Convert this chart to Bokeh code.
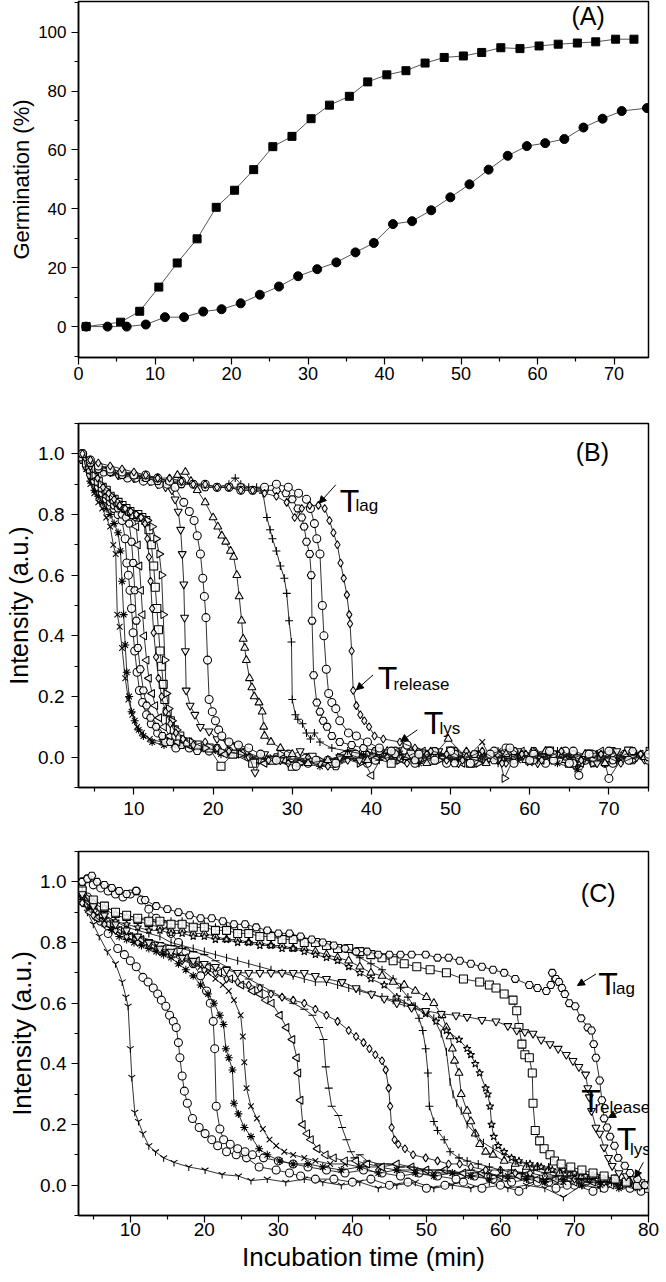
import math
from bokeh.plotting import figure
from bokeh.layouts import column
from bokeh.models import Range1d, Label, Arrow, NormalHead, FixedTicker, NumeralTickFormatter, Title
from bokeh.embed import file_html
from bokeh.resources import INLINE

FONT = "Liberation Sans"

# ---------------- Panel A data ----------------
a_sq_x = [1.0, 5.5, 8.0, 10.5, 12.9, 15.5, 18.0, 20.4, 22.9, 25.4, 27.9, 30.4, 32.8, 35.4, 37.8,
          40.3, 42.8, 45.3, 47.8, 50.3, 52.7, 55.2, 57.7, 60.2, 62.7, 65.2, 67.6, 70.2, 72.6]
a_sq_y = [0.0, 1.5, 5.2, 13.4, 21.6, 29.8, 40.5, 46.3, 53.3, 61.1, 64.6, 70.6, 75.2, 78.2, 83.1,
          85.5, 86.9, 89.5, 91.4, 91.9, 93.1, 94.7, 94.4, 95.3, 95.9, 96.3, 96.7, 97.6, 97.6]
a_ci_x = [1.0, 3.8, 6.3, 8.8, 11.3, 13.8, 16.3, 18.7, 21.2, 23.7, 26.2, 28.7, 31.2, 33.7, 36.2,
          38.6, 41.1, 43.6, 46.1, 48.6, 51.1, 53.6, 56.1, 58.6, 61.0, 63.5, 66.0, 68.5, 71.0, 74.3]
a_ci_y = [0.0, 0.0, 0.0, 0.7, 3.2, 3.2, 5.1, 5.9, 7.9, 10.8, 13.6, 17.1, 19.5, 21.8, 25.2,
          28.4, 34.8, 35.8, 39.5, 43.9, 48.3, 53.3, 58.0, 61.3, 62.3, 63.7, 67.6, 70.6, 73.2, 74.2]

# ---------------- Panel B data (time min, intensity a.u.) ----------------
b_cross = [(3.5,1.0),(4,.95),(4.5,.90),(5,.87),(5.5,.84),(6,.82),(6.5,.79),(7,.76),(7.4,.70),(7.7,.67),(7.9,.47),(8.2,.43),(8.5,.36),(8.9,.26),(9.3,.19),(9.8,.14),(10.4,.10),(11,.08),(12,.06),(13.5,.05),(15,.04),(17.5,.03),(20,.02),(22.5,.01),(25,-.01),(27.5,0),(30,-.02),(32.5,-.01),(35,-.02),(37.5,0),(40,.01),(42.5,-.01),(45,.02),(47.5,0),(50,-.01),(52.5,.01),(54,.05),(55,0),(57.5,.01),(60,-.02),(62.5,.01),(65,0),(67.5,-.01),(70,.02),(72.5,0),(75,-.01)]
b_star = [(3.5,.99),(4,.95),(4.5,.91),(5,.88),(5.5,.86),(6,.84),(6.5,.82),(7,.80),(7.5,.77),(8,.74),(8.3,.68),(8.5,.58),(8.7,.47),(8.9,.37),(9.1,.28),(9.4,.20),(9.7,.15),(10.1,.12),(10.6,.09),(11.2,.07),(12.3,.05),(13.8,.04),(16,.04),(18.5,.03),(21,.01),(23.5,.02),(26,0),(28.5,-.01),(31,-.02),(33.5,-.03),(36,-.01),(38.5,.01),(41,0),(43.5,.02),(46,-.02),(48.5,.01),(51,-.01),(53.5,0),(56,.02),(58.5,-.01),(61,.01),(63.5,-.02),(66,-.04),(68.5,.01),(71,-.01),(73.5,.01)]
b_circ1 = [(3.5,1.0),(4,.97),(4.5,.94),(5,.91),(5.5,.89),(6,.87),(6.5,.85),(7,.83),(7.5,.82),(8,.80),(8.5,.78),(8.9,.72),(9.1,.64),(9.3,.60),(9.5,.55),(9.7,.49),(9.9,.41),(10.1,.35),(10.4,.28),(10.7,.22),(11.1,.18),(11.6,.14),(12.2,.11),(13,.08),(14,.05),(15.3,.03),(17,.03),(19.5,.02),(22,.02),(24.5,0),(27,-.01),(29.5,.01),(32,-.02),(34.5,-.01),(37,.01),(39.5,-.02),(42,.01),(44.5,.04),(47,0),(49.5,-.02),(52,.01),(54.5,-.01),(57,.03),(59.5,0),(62,-.02),(64.5,.02),(67,-.01),(69.5,-.02),(70,-.07),(72,.01),(74.5,0)]
b_hex1 = [(3.5,.98),(4,.96),(4.5,.93),(5,.91),(5.5,.89),(6,.87),(6.5,.85),(7,.84),(7.5,.83),(8,.82),(8.5,.80),(9,.79),(9.4,.77),(9.7,.71),(9.9,.64),(10.1,.55),(10.3,.45),(10.5,.36),(10.8,.29),(11.2,.22),(11.6,.17),(12.1,.13),(12.8,.10),(13.6,.07),(14.6,.05),(16,.04),(18,.02),(20.5,.03),(23,.01),(25.5,-.01),(28,0),(30.5,-.02),(33,-.01),(35.5,-.03),(38,0),(40.5,.02),(43,-.01),(45.5,.01),(48,-.01),(50.5,.02),(53,-.02),(55.5,.01),(58,-.01),(60.5,.02),(63,0),(65.5,.01),(68,-.02),(70.5,.02),(73,-.01),(75,.01)]
b_ltri = [(3.5,1.0),(4,.97),(4.5,.94),(5,.92),(5.5,.90),(6,.88),(6.5,.86),(7,.85),(7.5,.84),(8,.83),(8.5,.82),(9,.81),(9.5,.80),(10,.79),(10.3,.76),(10.5,.70),(10.7,.63),(10.9,.55),(11.1,.47),(11.3,.40),(11.6,.32),(11.9,.26),(12.3,.21),(12.7,.17),(13.2,.13),(13.8,.10),(14.5,.07),(15.5,.05),(17,.04),(19,.03),(21.5,.01),(24,.02),(26.5,-.02),(29,-.01),(31.5,0),(34,-.02),(36.5,.01),(39,-.01),(40,-.06),(41.5,.01),(44,-.01),(46.5,.02),(49,0),(51.5,-.02),(54,.01),(56.5,-.01),(59,.02),(61.5,-.01),(64,.01),(66.5,-.02),(69,.02),(71.5,-.01),(74,.01)]
b_sq = [(3.5,.99),(4,.97),(4.5,.95),(5,.93),(5.5,.91),(6,.89),(6.5,.88),(7,.86),(7.5,.85),(8,.84),(8.5,.83),(9,.82),(9.5,.81),(10,.80),(10.5,.80),(11,.79),(11.5,.78),(11.9,.75),(12.2,.70),(12.5,.63),(12.7,.56),(12.9,.49),(13.1,.42),(13.3,.35),(13.5,.30),(13.7,.24),(13.9,.19),(14.2,.15),(14.6,.12),(15.1,.09),(15.8,.07),(16.8,.05),(18,.04),(19.5,.03),(21,-.03),(22.5,.01),(25,-.02),(27.5,-.01),(30,-.03),(32.5,0),(35,-.02),(37.5,.01),(40,0),(42.5,-.02),(45,.01),(47.5,-.01),(50,.02),(52.5,-.02),(55,0),(57.5,.01),(60,-.01),(62.5,.02),(65,-.02),(67.5,.01),(70,-.01),(72.5,.02),(75,0)]
b_rtri = [(3.5,1.0),(4.2,.96),(5,.93),(5.8,.90),(6.5,.88),(7.2,.86),(8,.84),(8.8,.82),(9.5,.81),(10.3,.80),(11,.79),(11.7,.78),(12.3,.76),(12.8,.72),(13.2,.67),(13.5,.60),(13.7,.47),(13.9,.32),(14.1,.21),(14.4,.16),(14.8,.12),(15.4,.09),(16.2,.06),(17.3,.05),(19,.03),(21,.02),(23.5,.01),(26,-.01),(28.5,.01),(31,-.02),(33.5,-.01),(36,0),(38.5,-.02),(41,.01),(43.5,-.01),(46,.02),(48.5,-.01),(51,.01),(53.5,-.02),(56,.01),(56.8,-.07),(58,0),(60.5,.02),(63,-.01),(65.5,.01),(68,-.02),(70.5,.01),(73,-.01),(75,.02)]
b_dia1 = [(3.5,1.0),(4,.98),(4.7,.95),(5.4,.92),(6.1,.89),(6.8,.87),(7.5,.85),(8.2,.83),(8.9,.82),(9.6,.81),(10.3,.80),(10.9,.79),(11.4,.77),(11.7,.72),(11.9,.66),(12.1,.58),(12.3,.49),(12.5,.41),(12.8,.33),(13.1,.26),(13.5,.20),(14,.15),(14.6,.11),(15.3,.08),(16.2,.06),(17.5,.04),(19,.05),(20.5,.03),(22,.02),(24.5,0),(27,-.01),(29.5,-.02),(32,0),(34.5,-.03),(37,-.01),(39.5,.01),(42,0),(44.5,-.02),(47,.01),(49.5,-.01),(52,.02),(54.5,0),(57,-.02),(59.5,.01),(62,.02),(64.5,-.01),(67,.01),(69.5,-.02),(72,.01),(74.5,-.01)]
b_itri = [(3.5,1.0),(4,.98),(4.5,.96),(5.2,.95),(6,.95),(7,.94),(8,.93),(9,.93),(10,.92),(11,.92),(12,.91),(13,.90),(14,.89),(14.8,.88),(15.2,.85),(15.6,.81),(15.9,.75),(16.1,.67),(16.3,.57),(16.4,.46),(16.5,.35),(16.6,.22),(17.1,.17),(17.7,.14),(18.4,.10),(19.5,.085),(20.5,.06),(21.8,.05),(23,.04),(24.3,.02),(25.3,-.05),(26.5,.01),(28.5,-.01),(31,.02),(33.5,-.02),(36,0),(38.5,-.01),(41,.02),(43.5,0),(46,-.01),(48.5,.02),(51,-.02),(53.5,.01),(56,-.01),(58.5,.02),(61,-.02),(63.5,.01),(66,0),(68.5,-.02),(71,.02),(73.5,0)]
b_circ2 = [(3.5,1.0),(4.3,.97),(5.2,.95),(6.2,.94),(7.2,.94),(8.2,.93),(9.2,.92),(10.2,.92),(11.2,.91),(12.2,.91),(13.2,.90),(14.2,.90),(15.2,.89),(16.3,.84),(17,.81),(17.6,.78),(18,.73),(18.4,.67),(18.7,.59),(18.9,.53),(19.1,.46),(19.3,.32),(19.5,.19),(19.9,.15),(20.3,.12),(20.7,.09),(21.1,.07),(22,.05),(23.2,.04),(24.5,.03),(26,.01),(28,-.01),(30.5,-.03),(33,-.01),(35.5,-.02),(38,.01),(40.5,-.01),(43,.02),(45.5,-.02),(48,0),(50.5,.01),(53,-.01),(55.5,.02),(58,-.02),(60.5,.01),(63,-.01),(65.5,.02),(68,0),(70.5,-.02),(73,.01),(75,-.01)]
b_tri = [(3.5,1.0),(4.5,.97),(5.5,.95),(7,.94),(8.5,.93),(10,.93),(11.5,.92),(13,.92),(14.5,.91),(15.5,.93),(16.5,.94),(17.2,.91),(18,.88),(19,.84),(20,.79),(20.6,.76),(21.1,.73),(21.6,.71),(22.2,.68),(22.6,.66),(23,.60),(23.3,.53),(23.6,.45),(23.8,.39),(24,.36),(24.2,.32),(24.6,.26),(24.9,.23),(25.2,.20),(25.8,.18),(26.2,.15),(26.4,.10),(26.5,.07),(27.3,.05),(28.5,.03),(30,.01),(32,-.02),(34.5,-.01),(37,.01),(39.5,-.01),(42,.02),(44.5,0),(47,-.02),(49.7,.06),(52,0),(54.5,-.02),(57,.01),(59.5,-.01),(62,.02),(64.5,-.01),(67,.01),(69.5,-.02),(72,.01),(74.5,0)]
b_plus = [(3.5,1.0),(4.5,.97),(5.5,.95),(7,.94),(8.5,.93),(10,.92),(11.5,.92),(13,.91),(14.5,.91),(16,.90),(17.5,.90),(19,.89),(20.5,.89),(22,.90),(22.8,.92),(23.5,.90),(24.5,.89),(25.5,.89),(26.3,.87),(26.8,.79),(27.2,.75),(27.5,.72),(28,.68),(28.5,.63),(29,.59),(29.3,.54),(29.6,.45),(29.9,.38),(30.0,.19),(30.4,.14),(30.7,.125),(31.3,.11),(31.8,.08),(32.3,.06),(32.8,.08),(33.5,.05),(35,.03),(37,.02),(39,.01),(41,-.01),(43.5,.01),(46,-.02),(48.5,.01),(51,-.01),(53.5,.02),(56,-.02),(58.5,.01),(61,-.01),(63.5,.02),(66,-.03),(68.5,.01),(71,-.01),(73.5,.01)]
b_hex2 = [(3.5,1.0),(4.5,.97),(5.5,.95),(7,.94),(8.5,.93),(10,.93),(11.5,.92),(13,.91),(14.5,.91),(16,.90),(17.5,.90),(19,.89),(20.5,.89),(22,.89),(23.5,.89),(25,.88),(26.5,.88),(28,.88),(29.2,.87),(30,.85),(30.7,.82),(31.2,.79),(31.5,.76),(31.8,.71),(32.2,.67),(32.4,.60),(32.5,.45),(32.7,.27),(33.1,.18),(33.5,.15),(33.9,.12),(34.4,.10),(35,.07),(36,.05),(37.5,.04),(39,.03),(41,.02),(43,.01),(45.5,-.01),(48,.02),(50.5,-.02),(53,.01),(55.5,-.01),(58,.02),(60.5,-.01),(63,.01),(65.5,-.02),(68,.01),(70.5,-.01),(73,.02),(75,0)]
b_circ3 = [(3.5,1.0),(4.5,.98),(5.5,.96),(7,.95),(8.5,.94),(10,.93),(11.5,.93),(13,.92),(14.5,.91),(16,.91),(17.5,.90),(19,.90),(20.5,.89),(22,.89),(23.5,.88),(25,.88),(26.5,.89),(28,.90),(29.5,.89),(30.8,.87),(31.8,.85),(32.3,.82),(32.8,.77),(33.1,.72),(33.5,.67),(33.8,.50),(34,.40),(34.3,.29),(34.6,.21),(35,.18),(35.5,.16),(36,.12),(37.1,.08),(38.1,.07),(39.5,.05),(41,.03),(42.5,.02),(44.5,.04),(46,.01),(48,-.01),(50,.02),(52.5,-.02),(55,.01),(57.5,.03),(60,-.01),(62.5,.02),(65,-.02),(66.2,-.06),(67.5,.01),(70,.02),(72.5,-.01),(75,.01)]
b_dia2 = [(3.5,1.0),(4.5,.98),(5.5,.97),(7,.96),(8.5,.95),(10,.94),(11.5,.93),(13,.92),(14.5,.92),(16,.91),(17.5,.90),(19,.90),(20.5,.89),(22,.89),(23.5,.88),(25,.88),(26.5,.87),(28,.86),(29.3,.84),(30.3,.79),(31.2,.82),(32.2,.83),(33.3,.83),(34.1,.82),(34.7,.78),(35.2,.74),(35.7,.70),(36.1,.64),(36.5,.59),(36.9,.535),(37.2,.47),(37.3,.44),(37.5,.35),(37.7,.22),(38.1,.17),(38.6,.14),(39.1,.12),(39.7,.10),(40.4,.07),(41.5,.06),(43.6,.05),(45.5,.03),(47.5,.02),(49.5,.01),(51.5,-.01),(54,.02),(56.5,-.02),(59,.01),(61.5,-.01),(64,.02),(66.5,-.01),(69,.01),(71.5,-.02),(74,.01)]

# ---------------- Panel C data ----------------
c_y1 = [(3.5,.95),(4.2,.90),(5,.86),(5.8,.82),(6.9,.77),(8,.73),(8.9,.67),(9.4,.62),(9.7,.59),(10,.45),(10.2,.355),(10.6,.24),(11.1,.21),(11.7,.17),(12.5,.13),(13.4,.11),(14.5,.09),(15.9,.075),(17.9,.06),(20.1,.05),(22.4,.035),(24.6,.03),(26.3,.015),(28.5,.02),(31,.01),(33.5,.02),(36,.01),(38.5,0),(41,.01),(43.5,-.01),(46,0),(48.5,.01),(51,-.01),(53.5,0),(56,-.01),(58.5,.01),(61,-.01),(63.5,0),(66,-.01),(68.5,-.04),(71,0),(73.5,-.01),(76,.01),(78.5,-.01),(80,0)]
c_circ1 = [(3.5,.98),(4.2,.95),(5,.91),(6,.87),(7,.83),(8.3,.78),(9.2,.76),(10,.74),(10.8,.72),(11.7,.685),(12.4,.67),(13.1,.65),(13.7,.63),(14.2,.61),(14.8,.59),(15.3,.56),(15.8,.54),(16.2,.52),(16.5,.47),(16.7,.42),(17,.36),(17.3,.31),(17.7,.27),(18.4,.22),(19.3,.19),(20.1,.17),(21,.15),(21.8,.13),(23,.11),(24.3,.10),(25.7,.09),(27.4,.06),(29.7,.05),(31.5,.04),(33,.03),(35,.02),(37.5,.02),(40,.01),(42.5,.02),(45,0),(47.5,.01),(50,-.01),(52.5,0),(55,.01),(57.5,-.01),(60,0),(62.5,-.02),(65,.01),(67.5,-.01),(70,0),(72.5,-.02),(75,.01),(77.5,-.01),(80,0)]
c_circ2 = [(3.5,1.0),(4.2,1.01),(5,.99),(6,.98),(7,.97),(8,.96),(9,.95),(10,.96),(10.8,.97),(11.5,.94),(12.5,.91),(13.5,.88),(14.5,.86),(15.5,.83),(16.5,.80),(17.5,.77),(18.5,.73),(19.5,.69),(20.3,.64),(20.8,.60),(21.2,.54),(21.4,.45),(21.6,.26),(22.1,.185),(22.6,.15),(23.5,.135),(24.5,.12),(25.5,.11),(26.5,.10),(28,.09),(30,.08),(32,.07),(34,.06),(36.5,.05),(39,.04),(41.5,.05),(44,.04),(46.5,.03),(49,.04),(51.5,.03),(54,.02),(56.5,.03),(59,.02),(61.5,.01),(64,.02),(66.5,.01),(69,0),(71.5,.01),(74,-.01),(76.5,0),(79,-.02)]
c_star = [(3.5,.95),(4.5,.91),(5.5,.88),(6.5,.86),(7.5,.84),(8.5,.82),(9.5,.81),(10.5,.80),(11.5,.79),(12.5,.78),(13.5,.77),(14.5,.76),(15.5,.75),(16.5,.73),(17.5,.71),(18.5,.69),(19.5,.66),(20.5,.63),(21.3,.60),(22.1,.56),(22.6,.53),(22.9,.45),(23.3,.42),(23.8,.38),(24,.27),(24.6,.235),(25.4,.19),(26.3,.16),(27.4,.12),(28.5,.10),(30.2,.08),(32,.07),(34,.07),(36,.06),(38.5,.05),(41,.06),(43.5,.04),(46,.05),(48.5,.04),(51,.03),(53.5,.04),(56,.03),(58.5,.02),(61,.03),(63.5,.02),(66,.01),(68.5,.02),(71,0),(73.5,.01),(76,-.01),(78.5,0)]
c_cross = [(3.5,.95),(4.5,.92),(5.5,.89),(6.5,.87),(7.5,.85),(8.5,.84),(9.5,.83),(10.5,.82),(11.5,.81),(12.5,.80),(13.5,.79),(14.5,.78),(15.5,.77),(16.5,.76),(17.5,.75),(18.5,.73),(19.5,.72),(20.5,.70),(21.5,.68),(22.5,.66),(23.3,.64),(24,.61),(24.9,.56),(25.2,.49),(25.4,.405),(25.7,.32),(26.3,.26),(27.1,.22),(27.9,.185),(28.8,.15),(29.7,.13),(30.8,.11),(32,.10),(33.5,.09),(35,.08),(37,.07),(39,.07),(41,.06),(43.5,.06),(46,.05),(48.5,.05),(51,.04),(53.5,.04),(56,.03),(58.5,.04),(61,.02),(63.5,.03),(66,.02),(68.5,.01),(71,.02),(73.5,0),(76,.01),(78.5,-.01)]
c_ltri = [(3.5,.93),(4.5,.90),(5.5,.88),(7,.86),(8.5,.84),(10,.82),(11.5,.81),(13,.79),(14.5,.78),(16,.77),(17.5,.75),(19,.74),(20.5,.72),(22,.70),(23.5,.68),(25,.66),(26.5,.64),(27.5,.63),(28.3,.61),(29.1,.60),(30.2,.56),(31.1,.52),(31.9,.48),(32.5,.42),(32.7,.37),(33,.28),(33.3,.20),(33.9,.17),(34.4,.15),(35.3,.12),(36.4,.10),(37.5,.09),(39,.08),(40.5,.08),(42,.07),(44,.06),(46,.07),(48,.06),(50,.05),(52.5,.05),(55,.04),(57.5,.04),(60,.03),(62.5,.03),(65,.02),(67.5,.02),(70,.01),(72.5,.01),(75,0),(77.5,.01),(80,-.01)]
c_dash = [(3.5,.96),(5,.92),(6.5,.88),(8,.85),(9.5,.83),(11,.82),(12.5,.81),(14,.80),(15.5,.79),(17,.78),(18.5,.77),(20,.76),(21.5,.74),(23,.72),(24.5,.70),(26,.68),(27.5,.66),(29,.64),(30.5,.62),(32,.60),(33.5,.58),(34.6,.56),(35.5,.52),(36.1,.48),(36.4,.39),(36.8,.32),(37.2,.26),(38.1,.23),(38.6,.19),(39.2,.15),(39.8,.11),(40.3,.09),(41,.10),(42,.08),(43.5,.07),(45,.07),(46.5,.06),(48,.06),(50,.05),(52,.05),(54,.04),(56,.05),(58,.04),(60,.03),(62,.04),(64,.03),(66,.02),(68,.03),(70,.02),(72,.01),(74,.01),(76,0),(78,.01),(80,-.01)]
c_dia = [(3.5,.93),(5,.89),(6.5,.86),(8,.84),(9.5,.82),(11,.80),(12.5,.79),(14,.77),(15.5,.76),(17,.74),(18.5,.73),(20,.71),(21.5,.70),(23,.68),(24.5,.67),(26,.66),(27.5,.65),(29,.63),(30.5,.62),(32,.61),(33.5,.60),(35,.58),(36.5,.56),(38,.54),(39.5,.51),(40.5,.49),(41.5,.47),(42.3,.45),(43.1,.43),(44,.41),(44.5,.38),(44.9,.32),(45.1,.26),(45.3,.19),(45.7,.15),(46.2,.135),(47.1,.12),(48.2,.10),(49.9,.09),(51.5,.08),(53,.07),(54.5,.07),(56,.06),(58,.05),(60,.05),(62,.04),(64,.04),(66,.03),(68,.03),(70,.02),(72,.02),(74,.01),(76,.01),(78,0),(80,0)]
c_plus = [(3.5,.97),(5,.94),(6.5,.92),(8,.90),(9.5,.89),(11,.88),(12.5,.88),(14,.87),(15.5,.87),(17,.87),(18.5,.86),(20,.86),(21.5,.85),(23,.85),(24.5,.84),(26,.84),(27.5,.83),(29,.83),(30.5,.82),(32,.82),(33.5,.81),(35,.80),(36.5,.79),(38,.78),(39.5,.77),(41,.75),(42.5,.73),(44,.71),(45.5,.68),(46.5,.65),(47.5,.62),(48.3,.59),(49,.55),(49.5,.51),(49.9,.45),(50.2,.37),(50.4,.26),(51,.21),(51.5,.18),(52.4,.15),(53.2,.11),(54.4,.09),(55.5,.08),(57,.07),(58.5,.06),(60,.05),(61.5,.05),(63,.04),(64.5,.05),(66,.04),(67.5,.03),(69,.03),(70.5,.02),(72,.02),(73.5,.01),(75,.01),(76.5,0),(78,.01),(79.5,-.01)]
c_tri = [(3.5,.96),(5,.93),(6.5,.91),(8,.89),(9.5,.88),(11,.87),(12.5,.86),(14,.85),(15.5,.84),(17,.84),(18.5,.83),(20,.83),(21.5,.82),(23,.81),(24.5,.81),(26,.80),(27.5,.80),(29,.79),(30.5,.79),(32,.78),(33.5,.78),(35,.77),(36.5,.76),(38,.75),(39.5,.74),(41,.72),(42.5,.70),(44,.69),(45.5,.67),(47,.66),(48.5,.64),(50,.62),(51,.60),(52.1,.56),(52.7,.52),(53.2,.49),(53.5,.45),(53.8,.41),(54.4,.37),(54.7,.30),(55.5,.245),(56,.21),(56.6,.17),(57.2,.135),(58,.11),(59,.10),(60.5,.08),(62,.07),(63.5,.06),(65,.06),(66.5,.05),(68,.04),(69.5,.04),(71,.03),(72.5,.03),(74,.02),(75.5,.02),(77,.01),(78.5,.01),(80,0)]
c_bar = [(3.5,.96),(5,.92),(6.5,.89),(8,.87),(9.5,.85),(11,.84),(12.5,.83),(14,.82),(15.5,.80),(17,.79),(18.5,.78),(20,.77),(21.5,.76),(23,.75),(24.5,.74),(26,.73),(27.5,.72),(29,.71),(30.5,.70),(32,.69),(33.5,.68),(35,.67),(36.5,.67),(38,.66),(39.5,.65),(41,.64),(42.5,.63),(44,.62),(45.5,.61),(47,.60),(48.5,.59),(50,.57),(51,.55),(52,.50),(52.7,.44),(53.2,.34),(53.6,.30),(54.1,.27),(54.7,.245),(55.5,.20),(56.6,.17),(57.7,.14),(59,.12),(60.5,.10),(62,.08),(63.5,.07),(65,.06),(66.5,.06),(67,.09),(68,.05),(69.5,.04),(71,.04),(72.5,.03),(74,.02),(75.5,.02),(77,.01),(78.5,.01),(80,0)]
c_star2 = [(3.5,.95),(5,.92),(6.5,.89),(8,.87),(9.5,.86),(11,.85),(12.5,.84),(14,.84),(15.5,.83),(17,.83),(18.5,.82),(20,.82),(21.5,.81),(23,.81),(24.5,.80),(26,.80),(27.5,.79),(29,.79),(30.5,.78),(32,.78),(33.5,.77),(35,.76),(36.5,.75),(38,.74),(39.5,.72),(41,.70),(42.5,.68),(44.3,.66),(46,.62),(48,.59),(49.9,.565),(51.3,.54),(52.7,.51),(54.4,.48),(55.5,.45),(56,.43),(56.6,.40),(57.2,.37),(58,.32),(58.3,.30),(58.6,.26),(58.8,.20),(59.1,.16),(59.7,.13),(60.5,.11),(61.5,.09),(62.5,.08),(64,.07),(65.5,.06),(67,.05),(68.5,.05),(70,.04),(71.5,.03),(73,.03),(74.5,.02),(76,.01),(77.5,.01),(79,0)]
c_sq = [(3.5,.97),(5,.94),(6.5,.92),(8,.90),(9.5,.89),(11,.88),(12.5,.87),(14,.87),(15.5,.86),(17,.86),(18.5,.85),(20,.85),(21.5,.84),(23,.84),(24.5,.83),(26,.83),(27.5,.82),(29,.82),(30.5,.81),(32,.81),(33.5,.80),(35,.80),(36.5,.79),(38,.78),(39.5,.78),(41,.77),(42.5,.76),(44,.75),(45.5,.74),(47,.73),(48.7,.72),(50.5,.71),(52.7,.70),(55,.68),(57.2,.67),(58.5,.66),(59.4,.65),(60.5,.63),(61.7,.61),(62.2,.575),(62.5,.52),(62.9,.465),(63.3,.43),(63.9,.42),(64.3,.37),(64.4,.27),(64.7,.18),(65.3,.146),(65.9,.12),(66.7,.10),(67.3,.08),(68.2,.07),(69.5,.06),(71,.05),(72.5,.04),(74,.03),(75.5,.02),(77,.01),(78.5,0),(80,-.01)]
c_itri = [(3.5,.96),(5,.92),(6.5,.89),(8,.86),(9.5,.84),(11,.82),(12.5,.80),(14,.78),(15.5,.77),(17,.75),(18.5,.74),(20,.73),(21.5,.72),(23,.71),(24.5,.70),(26,.70),(27.5,.70),(29,.70),(30.5,.70),(32,.70),(33.5,.70),(35,.69),(36.5,.68),(38.6,.67),(40.5,.65),(42.6,.63),(44.3,.615),(46,.60),(48,.585),(49.9,.575),(52,.565),(54,.56),(55.5,.555),(57.5,.545),(59.4,.54),(61,.525),(62.2,.51),(63.3,.505),(64.4,.50),(65.5,.48),(66.7,.465),(67.8,.45),(68.9,.43),(69.8,.41),(70.6,.39),(71.5,.365),(71.8,.32),(72,.29),(72.3,.245),(72.9,.19),(73.4,.17),(74,.125),(74.6,.09),(75.1,.064),(76,.04),(77,.03),(78,.02),(79,.01),(80,0)]
c_hex = [(3.5,1.0),(4.2,1.01),(4.8,1.02),(5.5,1.0),(6.5,.99),(7.5,.98),(8.5,.97),(9.5,.96),(10.8,.97),(12,.94),(13.5,.92),(15,.91),(16.5,.90),(18,.89),(19.5,.88),(21,.88),(22.5,.87),(24,.86),(25.5,.86),(27,.85),(28.5,.84),(30,.83),(31.5,.83),(33,.82),(34.5,.81),(36,.80),(37.5,.79),(39,.78),(40.5,.77),(42,.77),(43.5,.76),(45,.76),(46.5,.76),(48,.76),(49.9,.76),(51.5,.75),(53,.75),(54.5,.74),(56,.73),(57.5,.72),(59,.71),(60.5,.70),(62,.68),(63.9,.66),(65,.65),(66.2,.64),(66.8,.66),(67,.70),(67.5,.68),(67.9,.67),(68.3,.65),(68.7,.63),(69.3,.60),(70.1,.59),(70.9,.55),(71.8,.52),(72.3,.51),(72.6,.465),(72.9,.42),(73.4,.345),(73.7,.28),(74,.22),(74.4,.19),(74.8,.16),(75.4,.13),(75.9,.09),(76.8,.064),(77.5,.04),(78.5,.02),(79.5,0)]

HALF_PI = math.pi / 2
B_SERIES = [(b_cross, "x", 0), (b_star, "asterisk", 0), (b_circ1, "circle", 0), (b_hex1, "hex", 0),
            (b_ltri, "triangle", HALF_PI), (b_sq, "square", 0), (b_rtri, "triangle", -HALF_PI),
            (b_dia1, "diamond", 0), (b_itri, "inverted_triangle", 0), (b_circ2, "circle", 0),
            (b_tri, "triangle", 0), (b_plus, "cross", 0), (b_hex2, "hex", 0), (b_circ3, "circle", 0),
            (b_dia2, "diamond", 0)]
C_SERIES = [(c_y1, "y", 0), (c_circ1, "circle", 0), (c_circ2, "circle", 0), (c_star, "asterisk", 0),
            (c_cross, "x", 0), (c_ltri, "triangle", HALF_PI), (c_dash, "dash", 0), (c_dia, "diamond", 0),
            (c_plus, "cross", 0), (c_tri, "triangle", 0), (c_bar, "dash", HALF_PI), (c_star2, "star", 0),
            (c_sq, "square", 0), (c_itri, "inverted_triangle", 0), (c_hex, "hex", 0)]


def style(p, xticks, yticks, ytick_px, xtick_px, xminor, yminor, ystand, xstand):
    p.outline_line_color = "black"
    p.outline_line_width = 1.5
    p.grid.visible = False
    for ax in (p.xaxis[0], p.yaxis[0]):
        ax.axis_line_width = 1.5
        ax.major_tick_out = 7
        ax.major_tick_in = 0
        ax.minor_tick_out = 4
        ax.minor_tick_in = 0
        ax.major_tick_line_width = 1.2
        ax.minor_tick_line_width = 1.2
        ax.major_label_text_font = FONT
        ax.major_label_text_color = "black"
        ax.axis_label_text_font = FONT
        ax.axis_label_text_font_style = "normal"
        ax.axis_label_text_color = "black"
    p.xaxis[0].major_label_text_font_size = xtick_px
    p.yaxis[0].major_label_text_font_size = ytick_px
    p.xaxis[0].ticker = FixedTicker(ticks=xticks, minor_ticks=xminor)
    p.yaxis[0].ticker = FixedTicker(ticks=yticks, minor_ticks=yminor)
    p.yaxis[0].major_label_standoff = ystand
    p.xaxis[0].major_label_standoff = xstand


def side_title(p, text, size, standoff, offset):
    # vertical axis title in the left border, nudged below the frame centre as in the original
    p.add_layout(Title(text=text, align="center", offset=offset, standoff=standoff,
                       text_font=FONT, text_font_size=size, text_font_style="normal",
                       text_color="black"), "left")


def panel_label(p, x, y, text, size):
    p.add_layout(Label(x=x, y=y, text=text, text_font=FONT, text_font_size=size,
                       text_align="center", text_baseline="middle", text_color="black"))


def t_label(p, x, y, sub, xs, ys, ax0, ay0, ax1, ay1):
    p.add_layout(Label(x=x, y=y, text="T", text_font=FONT, text_font_size="32px",
                       text_baseline="alphabetic", text_color="black"))
    p.add_layout(Label(x=xs, y=ys, text=sub, text_font=FONT, text_font_size="17px",
                       text_baseline="alphabetic", text_color="black"))
    p.add_layout(Arrow(end=NormalHead(size=7, fill_color="black", line_color="black"),
                       x_start=ax0, y_start=ay0, x_end=ax1, y_end=ay1,
                       line_color="black", line_width=1))


def draw_traces(p, series):
    for pts, mk, ang in series:
        xs = [q[0] for q in pts]
        ys = [q[1] for q in pts]
        p.line(xs, ys, line_color="#1a1a1a", line_width=0.9)
        p.scatter(xs, ys, marker=mk, angle=ang, size=8, fill_color="white", fill_alpha=0.85,
                  line_color="black", line_width=1.05)


# ---------------- Panel A ----------------
pa = figure(width=660, height=410, output_backend="svg", toolbar_location=None,
            x_range=Range1d(0, 74.5), y_range=Range1d(-10.5, 110.4),
            min_border_left=75, min_border_right=12, min_border_top=1, min_border_bottom=53)
style(pa, list(range(0, 71, 10)), list(range(0, 101, 20)), "17px", "18px",
      list(range(5, 75, 10)), list(range(-10, 111, 20)), 5, 2)
pa.line(a_sq_x, a_sq_y, line_color="#555555", line_width=1)
pa.scatter(a_sq_x, a_sq_y, marker="square", size=8, fill_color="black", line_color="black")
pa.line(a_ci_x, a_ci_y, line_color="#555555", line_width=1)
pa.scatter(a_ci_x, a_ci_y, marker="circle", size=9, fill_color="black", line_color="black")
panel_label(pa, 66.6, 105.5, "(A)", "25px")
side_title(pa, "Germination (%)", "22px", 4, -16)

# ---------------- Panel B ----------------
pb = figure(width=660, height=420, output_backend="svg", toolbar_location=None,
            x_range=Range1d(3, 75), y_range=Range1d(-0.1, 1.1),
            min_border_left=76, min_border_right=8, min_border_top=13, min_border_bottom=43)
style(pb, list(range(10, 71, 10)), [0, 0.2, 0.4, 0.6, 0.8, 1.0], "19px", "19px",
      list(range(5, 76, 10)), [-0.1, 0.1, 0.3, 0.5, 0.7, 0.9, 1.1], 7, 7)
pb.yaxis[0].formatter = NumeralTickFormatter(format="0.0")
draw_traces(pb, B_SERIES)
panel_label(pb, 67.9, 1.006, "(B)", "25px")
side_title(pb, "Intensity (a.u.)", "25px", 5, -15)
t_label(pb, 36.0, 0.843, "lag", 38.0, 0.830, 35.5, 0.898, 33.4, 0.837)
t_label(pb, 40.8, 0.26, "release", 42.8, 0.238, 40.2, 0.271, 38.1, 0.222)
t_label(pb, 46.6, 0.112, "lys", 48.6, 0.096, 45.8, 0.09, 43.7, 0.052)

# ---------------- Panel C ----------------
pc = figure(width=660, height=450, output_backend="svg", toolbar_location=None,
            x_range=Range1d(3, 80), y_range=Range1d(-0.1, 1.1),
            min_border_left=70, min_border_right=6, min_border_top=21, min_border_bottom=65)
style(pc, list(range(10, 81, 10)), [0, 0.2, 0.4, 0.6, 0.8, 1.0], "19px", "19px",
      list(range(5, 80, 10)), [-0.1, 0.1, 0.3, 0.5, 0.7, 0.9, 1.1], 5, 0)
pc.yaxis[0].formatter = NumeralTickFormatter(format="0.0")
pc.xaxis[0].axis_label = "Incubation time (min)"
pc.xaxis[0].axis_label_text_font_size = "26px"
pc.xaxis[0].axis_label_standoff = 3
draw_traces(pc, C_SERIES)
panel_label(pc, 73.2, 0.963, "(C)", "25px")
side_title(pc, "Intensity (a.u.)", "26px", 2, -14)
t_label(pc, 73.2, 0.663, "lag", 75.1, 0.650, 72.9, 0.696, 70.4, 0.658)
t_label(pc, 70.9, 0.278, "release", 72.7, 0.256, 76.3, 0.245, 74.6, 0.223)
t_label(pc, 75.7, 0.152, "lys", 77.5, 0.119, 79.3, 0.075, 78.2, 0.025)

layout = column(pa, pb, pc, spacing=0)
open("out.html", "w").write(file_html(layout, INLINE))
